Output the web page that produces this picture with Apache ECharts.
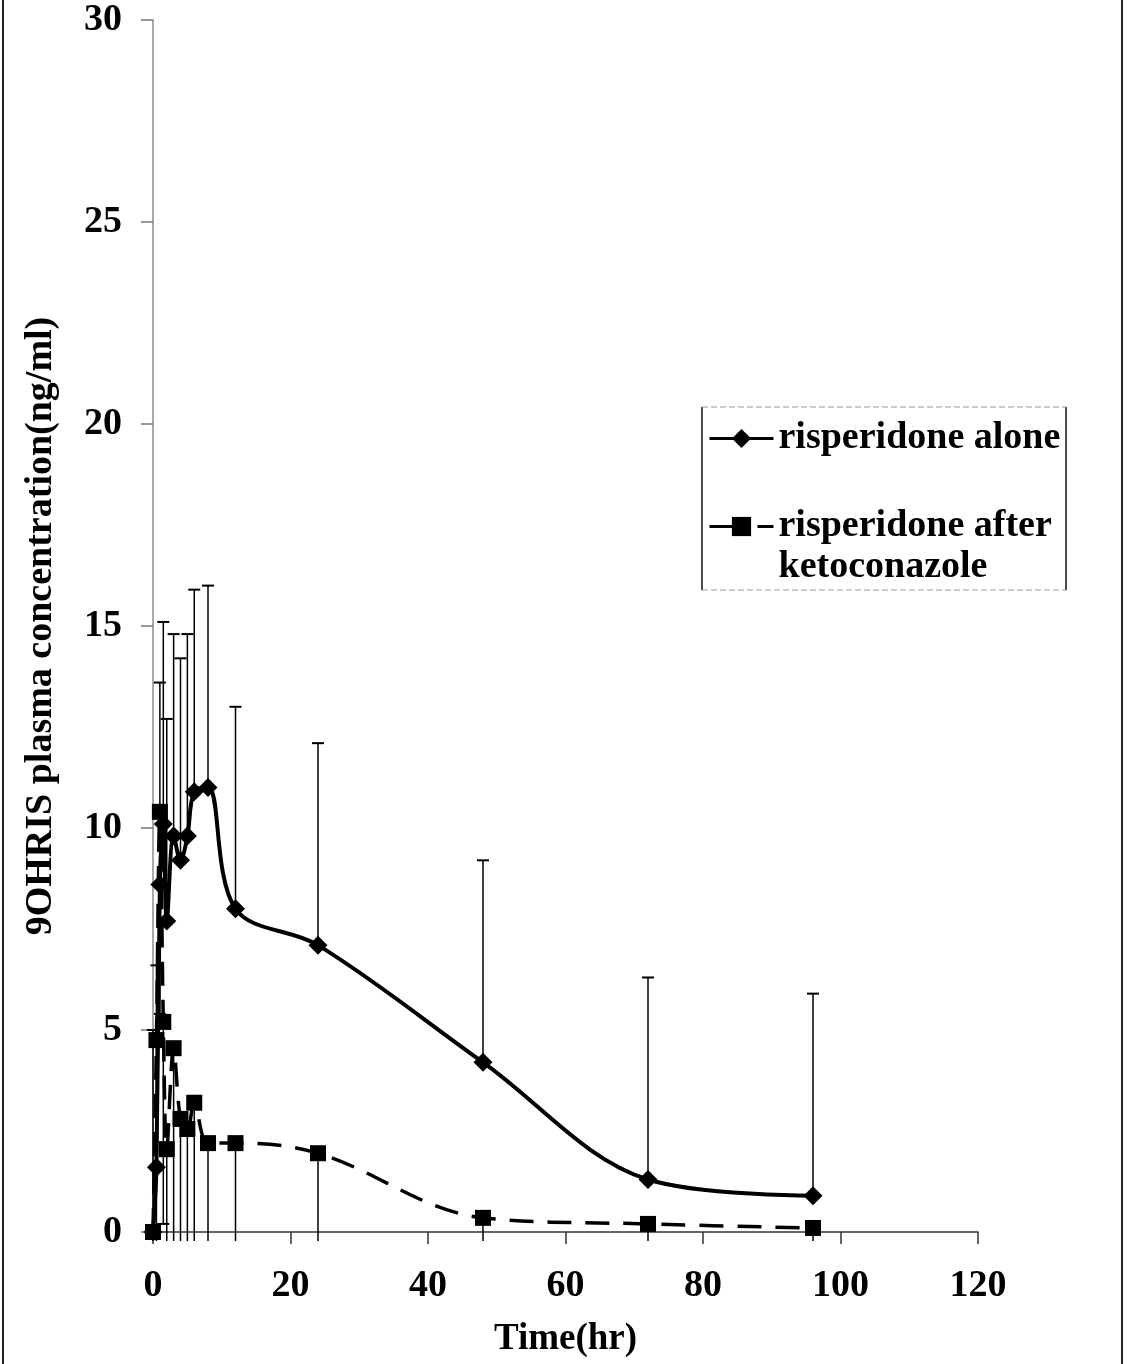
<!DOCTYPE html>
<html>
<head>
<meta charset="utf-8">
<script src="https://cdn.jsdelivr.net/npm/echarts@6/dist/echarts.min.js"></script>
<style>
  html, body { margin: 0; padding: 0; background: #ffffff; }
  #chart { width: 1127px; height: 1364px; }
</style>
</head>
<body>
<div id="chart"></div>
<script>
// Sampling times (hours after dose)
const timeHr = [0, 0.5, 1, 1.5, 2, 3, 4, 5, 6, 8, 12, 24, 48, 72, 96];

// Mean 9-OH-risperidone plasma concentration (ng/ml)
const risperidoneAlone = [0, 1.6, 8.6, 10.1, 7.7, 9.8, 9.2, 9.8, 10.9, 11.0, 8.0, 7.1, 4.2, 1.3, 0.9];
const afterKetoconazole = [0, 4.75, 10.4, 5.2, 2.05, 4.55, 2.8, 2.55, 3.2, 2.2, 2.2, 1.95, 0.35, 0.2, 0.1];

// Error bar lengths (ng/ml): upward for the first series, downward for the second
const aloneError = [5, 5, 5, 5, 5, 5, 5, 5, 5, 5, 5, 5, 5, 5, 5];
const ketoError = [5, 5, 5, 5, 5, 5, 5, 5, 5, 5, 5, 5, 5, 5, 5];

// Axis ticks
const xTicks = [0, 20, 40, 60, 80, 100, 120];
const yTicks = [0, 5, 10, 15, 20, 25, 30];

const NAME_ALONE = 'risperidone alone';
const NAME_KETO = 'risperidone after ketoconazole';

const FONT = 'Liberation Serif';

function errorBars(means, errors, direction) {
  return {
    type: 'custom',
    silent: true,
    clip: false,
    z: 1,
    data: timeHr.map((t, i) => [t, means[i], means[i] + direction * errors[i]]),
    encode: { x: 0, y: [1, 2] },
    renderItem(params, api) {
      const x = api.value(0);
      const p0 = api.coord([x, api.value(1)]);
      const p1 = api.coord([x, api.value(2)]);
      const base = api.coord([0, 0])[1];
      let endY = p1[1];
      const children = [];
      let capped = true;
      // bars that run below zero stop just under the axis line
      if (endY > base + 9) { endY = base + 9; capped = false; }
      children.push({
        type: 'line',
        shape: { x1: p0[0], y1: p0[1], x2: p0[0], y2: endY },
        style: { stroke: '#000', lineWidth: 1.5 }
      });
      if (capped) {
        children.push({
          type: 'line',
          shape: { x1: p0[0] - 6, y1: endY, x2: p0[0] + 6, y2: endY },
          style: { stroke: '#000', lineWidth: 2 }
        });
      }
      return { type: 'group', children };
    }
  };
}

const chart = echarts.init(document.getElementById('chart'), null, { renderer: 'canvas' });

chart.setOption({
  backgroundColor: '#ffffff',
  animation: false,
  grid: { left: 153, right: 149, top: 20, bottom: 132, containLabel: false },
  xAxis: {
    type: 'value',
    min: xTicks[0],
    max: xTicks[xTicks.length - 1],
    interval: 20,
    name: 'Time(hr)',
    nameLocation: 'middle',
    nameGap: 89,
    nameTextStyle: { fontFamily: FONT, fontWeight: 'bold', fontSize: 37, color: '#000' },
    axisLine: { show: true, lineStyle: { color: '#333', width: 1.5 } },
    axisTick: { show: true, inside: false, length: 12, lineStyle: { color: '#333', width: 1.5 } },
    axisLabel: { margin: 35, fontFamily: FONT, fontWeight: 'bold', fontSize: 38, color: '#000' },
    splitLine: { show: false }
  },
  yAxis: {
    type: 'value',
    min: yTicks[0],
    max: yTicks[yTicks.length - 1],
    interval: 5,
    name: '9OHRIS plasma concentration(ng/ml)',
    nameLocation: 'middle',
    nameGap: 93,
    nameTextStyle: { fontFamily: FONT, fontWeight: 'bold', fontSize: 38, color: '#000' },
    axisLine: { show: true, lineStyle: { color: '#8c8c8c', width: 1.5 } },
    axisTick: { show: true, inside: false, length: 12, lineStyle: { color: '#777', width: 1.5 } },
    axisLabel: { margin: 31, fontFamily: FONT, fontWeight: 'bold', fontSize: 38, color: '#000' },
    splitLine: { show: false }
  },
  legend: {
    orient: 'vertical',
    left: 708,
    top: 418,
    padding: 0,
    itemGap: 6,
    itemWidth: 64,
    itemHeight: 24,
    lineStyle: { width: 3 },
    textStyle: { fontFamily: FONT, fontWeight: 'bold', fontSize: 38, color: '#000', lineHeight: 41 },
    // the leading blank line keeps the first text line level with the icon
    formatter: name => name === NAME_KETO ? '\nrisperidone after\nketoconazole' : name,
    data: [
      { name: NAME_ALONE },
      { name: NAME_KETO, lineStyle: { type: [34, 14], width: 3 } }
    ]
  },
  graphic: [
    // outer frame edges
    { type: 'line', shape: { x1: 3, y1: 0, x2: 3, y2: 1364 }, style: { stroke: '#222', lineWidth: 2 } },
    { type: 'line', shape: { x1: 1122, y1: 0, x2: 1122, y2: 1364 }, style: { stroke: '#222', lineWidth: 2 } },
    // legend box
    { type: 'line', shape: { x1: 702, y1: 407, x2: 702, y2: 590 }, style: { stroke: '#111', lineWidth: 1.5 } },
    { type: 'line', shape: { x1: 1066, y1: 407, x2: 1066, y2: 590 }, style: { stroke: '#111', lineWidth: 1.5 } },
    { type: 'line', shape: { x1: 702, y1: 407, x2: 1066, y2: 407 }, style: { stroke: '#999', lineWidth: 1, lineDash: [6, 3] } },
    { type: 'line', shape: { x1: 702, y1: 590, x2: 1066, y2: 590 }, style: { stroke: '#999', lineWidth: 1, lineDash: [6, 3] } }
  ],
  series: [
    errorBars(risperidoneAlone, aloneError, 1),
    errorBars(afterKetoconazole, ketoError, -1),
    {
      type: 'line',
      name: NAME_ALONE,
      data: timeHr.map((t, i) => [t, risperidoneAlone[i]]),
      smooth: 0.35,
      symbol: 'diamond',
      symbolSize: 19,
      showAllSymbol: true,
      clip: false,
      z: 3,
      lineStyle: { color: '#000', width: 4 },
      itemStyle: { color: '#000' }
    },
    {
      type: 'line',
      name: NAME_KETO,
      data: timeHr.map((t, i) => [t, afterKetoconazole[i]]),
      smooth: 0.35,
      symbol: 'rect',
      symbolSize: 16,
      showAllSymbol: true,
      clip: false,
      z: 4,
      lineStyle: { color: '#000', width: 3.5, type: [24, 14] },
      itemStyle: { color: '#000' }
    }
  ]
});
</script>
</body>
</html>
